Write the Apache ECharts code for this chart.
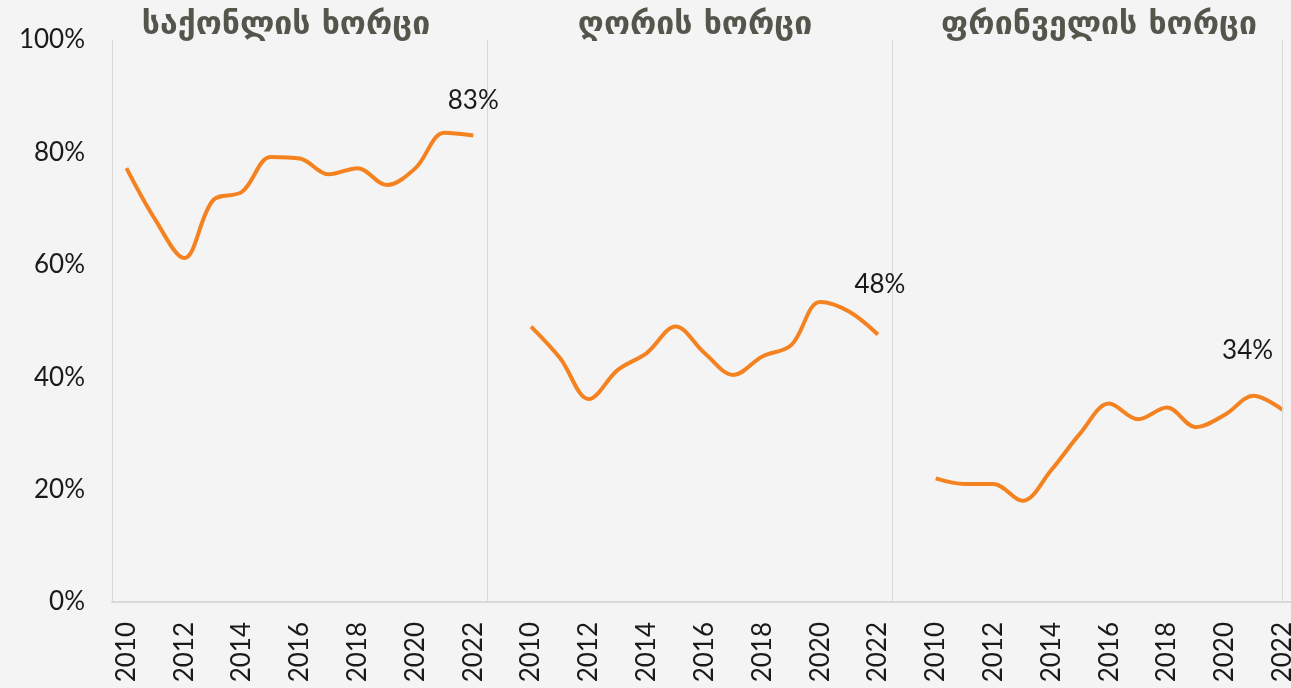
<!DOCTYPE html>
<html>
<head>
<meta charset="utf-8">
<script src="https://cdn.jsdelivr.net/npm/echarts@6/dist/echarts.min.js"></script>
<style>
  html, body { margin: 0; padding: 0; background: #f4f4f4; }
  #main { width: 1291px; height: 688px; }
</style>
</head>
<body>
<div id="main"></div>
<script>
var years = ['2010','2011','2012','2013','2014','2015','2016','2017','2018','2019','2020','2021','2022'];
var titles = ['საქონლის ხორცი', 'ღორის ხორცი', 'ფრინველის ხორცი'];
var beef = [77.2, 68.0, 61.2, 71.5, 73.0, 79.2, 78.9, 76.1, 77.2, 74.2, 77.2, 83.5, 83.0];
var pork = [49.0, 43.4, 36.1, 41.3, 44.3, 49.0, 44.3, 40.4, 43.7, 45.7, 53.4, 51.7, 47.6];
var poultry = [22.0, 21.0, 21.0, 18.0, 23.5, 30.0, 35.3, 32.5, 34.6, 31.1, 33.3, 36.7, 34.2];
var yTicks = [0, 20, 40, 60, 80, 100];

// one long axis: three blocks of years with an empty slot between them
var blank = [''];
var categories = years.concat(blank, years, blank, years);
var gap = years.length + 1;

var textFont = 'Lato';
var textColor = '#1a1a1a';

function block(values, offset, labelOpt) {
    var out = [];
    for (var i = 0; i < categories.length; i++) out.push(null);
    values.forEach(function (v, i) { out[offset + i] = v; });
    var last = offset + values.length - 1;
    out[last] = { value: values[values.length - 1], label: labelOpt };
    return out;
}

var orange = '#f58220';
var lineBase = {
    type: 'line',
    smooth: 0.35,
    showSymbol: true,
    symbol: 'circle',
    symbolSize: 0,
    connectNulls: false,
    lineStyle: { color: orange, width: 4 },
    itemStyle: { color: orange },
    emphasis: { disabled: true },
    label: { show: false }
};
function endLabel(dist, dx) {
    return {
        show: true,
        position: 'top',
        distance: dist,
        offset: [dx, 0],
        color: textColor,
        fontFamily: textFont,
        fontSize: 26,
        formatter: function (p) { return Math.round(p.value) + '%'; }
    };
}

var chart = echarts.init(document.getElementById('main'));
var option = {
    backgroundColor: '#f4f4f4',
    animation: false,
    title: [
        { text: titles[0], left: 281, top: 5, textAlign: 'center' },
        { text: titles[1], left: 690, top: 5, textAlign: 'center' },
        { text: titles[2], left: 1094, top: 5, textAlign: 'center' }
    ].map(function (t) {
        t.textStyle = { color: '#55554b', fontFamily: 'DejaVu Sans', fontWeight: 'bold', fontSize: 32 };
        return t;
    }),
    grid: { left: 112, width: 1185, top: 40, bottom: 86, outerBoundsMode: 'none', containLabel: false },
    xAxis: {
        type: 'category',
        data: categories,
        boundaryGap: true,
        axisLine: { lineStyle: { color: '#d9d9d9', width: 2 } },
        axisTick: { show: false },
        axisLabel: {
            rotate: 90,
            interval: 1,
            margin: 20,
            color: textColor,
            fontFamily: textFont,
            fontSize: 26
        },
        splitLine: {
            show: true,
            interval: function (index) { return index === years.length || index === 2 * gap - 1; },
            lineStyle: { color: '#d9d9d9', width: 1 }
        }
    },
    yAxis: {
        type: 'value',
        min: yTicks[0],
        max: yTicks[yTicks.length - 1],
        interval: 20,
        axisLine: { show: true, lineStyle: { color: '#d9d9d9', width: 1 } },
        axisTick: { show: false },
        splitLine: { show: false },
        axisLabel: {
            margin: 27,
            color: textColor,
            fontFamily: textFont,
            fontSize: 26,
            formatter: '{value}%'
        }
    },
    series: [
        Object.assign({}, lineBase, { name: titles[0], data: block(beef, 0, endLabel(22, 0)) }),
        Object.assign({}, lineBase, { name: titles[1], data: block(pork, gap, endLabel(37, 2)) }),
        Object.assign({}, lineBase, {
            name: titles[2],
            data: block(poultry, 2 * gap, endLabel(46, -35)),
            markLine: {
                silent: true,
                symbol: 'none',
                label: { show: false },
                lineStyle: { color: '#d9d9d9', width: 1, type: 'solid' },
                data: [{ xAxis: categories.length - 1 }]
            }
        })
    ]
};
chart.setOption(option);
</script>
</body>
</html>
